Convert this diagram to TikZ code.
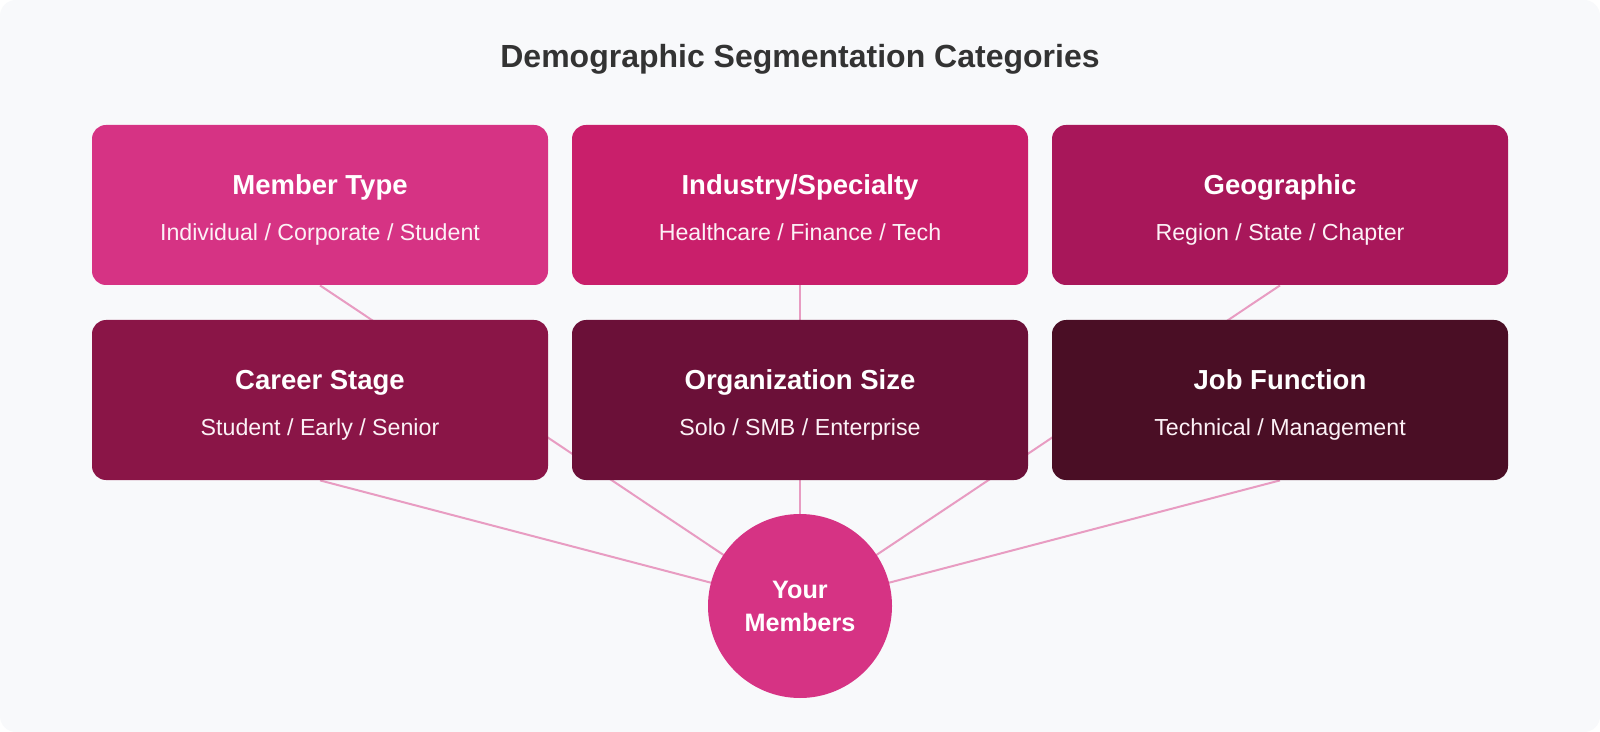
\documentclass[tikz,border=0pt]{standalone}
\usepackage{fontspec}
\setmainfont{Liberation Sans}
\usepackage{tikz}
\usetikzlibrary{positioning}
\usetikzlibrary{backgrounds}

\definecolor{panelbg}{HTML}{F8F9FB}
\definecolor{titlegray}{HTML}{333333}
\definecolor{spokepink}{HTML}{E89CC2}
\definecolor{catA}{HTML}{D63384}
\definecolor{catB}{HTML}{C91F6B}
\definecolor{catC}{HTML}{A8175A}
\definecolor{catD}{HTML}{8A1547}
\definecolor{catE}{HTML}{6B1038}
\definecolor{catF}{HTML}{4A0E25}

\tikzset{
  catbox/.style={rounded corners=7pt, minimum width=228pt, minimum height=80pt, inner sep=0pt},
  cathead/.style={anchor=base, inner sep=0pt, text=white, font=\bfseries\fontsize{13.75}{16}\selectfont},
  catsub/.style={anchor=base, inner sep=0pt, text=white!93!catA, font=\fontsize{11.6}{14}\selectfont},
  hub/.style={circle, fill=catA, minimum size=92pt, inner sep=0pt, align=center, text=white,
    font=\bfseries\fontsize{12.6}{16.5}\selectfont},
  spoke/.style={draw=spokepink, line width=1pt}
}

\begin{document}
\begin{tikzpicture}[x=0.5pt,y=0.5pt,yscale=-1,xscale=1]
            \useasboundingbox (0,0) rectangle (1600,732);

            % Title
            \node[anchor=base, inner sep=0pt, text=titlegray, font=\bfseries\fontsize{16}{19}\selectfont] (title) at (800,68) {Demographic Segmentation Categories};

            % Top row
            \node[catbox, fill=catA] (memtype) at (320,205) {};
            \node[catbox, fill=catB] (industry) at (800,205) {};
            \node[catbox, fill=catC] (geo) at (1280,205) {};
            % Bottom row
            \node[catbox, fill=catD] (career) at (320,400) {};
            \node[catbox, fill=catE] (orgsize) at (800,400) {};
            \node[catbox, fill=catF] (jobfn) at (1280,400) {};

            % Box texts
            \node[cathead] (memtype-h) at (320,195) {Member Type};
            \node[catsub] (memtype-s) at (320,241) {Individual / Corporate / Student};
            \node[cathead] (industry-h) at (800,195) {Industry/Specialty};
            \node[catsub] (industry-s) at (800,241) {Healthcare / Finance / Tech};
            \node[cathead] (geo-h) at (1280,195) {Geographic};
            \node[catsub] (geo-s) at (1280,241) {Region / State / Chapter};
            \node[cathead] (career-h) at (320,390) {Career Stage};
            \node[catsub] (career-s) at (320,436) {Student / Early / Senior};
            \node[cathead] (orgsize-h) at (800,390) {Organization Size};
            \node[catsub] (orgsize-s) at (800,436) {Solo / SMB / Enterprise};
            \node[cathead] (jobfn-h) at (1280,390) {Job Function};
            \node[catsub] (jobfn-s) at (1280,436) {Technical / Management};

            % Hub
            \node[hub] (members) at (800,606) {Your\\Members};

            % Panel and spokes behind everything
            \begin{scope}[on background layer]
              \fill[white] (0,0) rectangle (1600,732);
              \fill[panelbg, rounded corners=8pt] (0,0) rectangle (1600,732);
              \foreach \c in {memtype,industry,geo,career,orgsize,jobfn}
                \draw[spoke] (\c.south) -- (members.center);
            \end{scope}

\end{tikzpicture}
\end{document}
